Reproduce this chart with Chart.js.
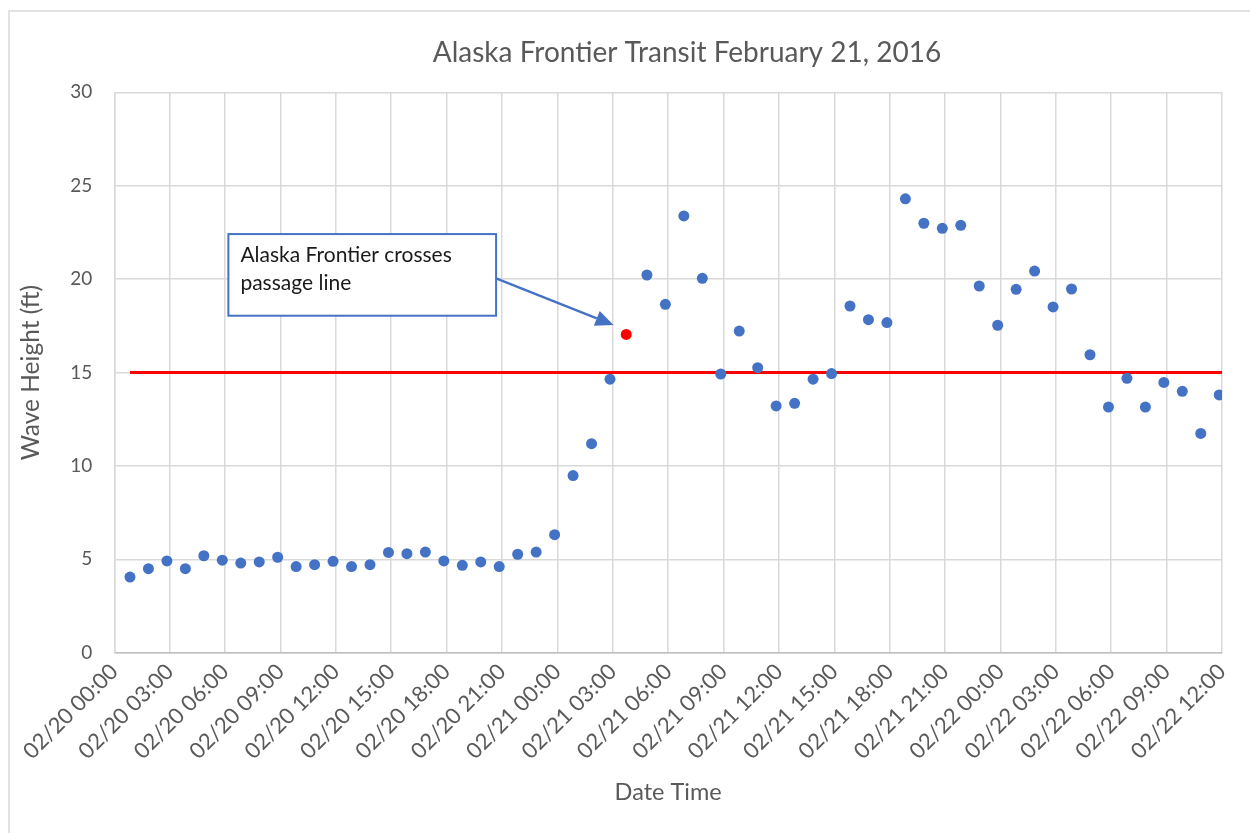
<!DOCTYPE html>
<html>
<head>
<meta charset="utf-8">
<title>Alaska Frontier Transit</title>
<script src="https://cdn.jsdelivr.net/npm/chart.js@4.4.1/dist/chart.umd.min.js"></script>
<style>
  html, body { margin: 0; padding: 0; background: #fff; }
  #wrap { width: 1250px; height: 833px; position: relative; }
</style>
</head>
<body>
<div id="wrap"><canvas id="chartWaves"></canvas></div>
<script>
// horas contadas desde 02/20 00:00; una lectura por hora (a los :51)
const firstReading = 0.85;
const axisDays = ['02/20', '02/21', '02/22'];

// altura de ola (ft); null = hueco donde va el punto rojo del cruce
const waveHeights = [
  4.05, 4.50, 4.91, 4.50, 5.19, 4.95, 4.80, 4.86, 5.11, 4.61,
  4.71, 4.89, 4.61, 4.71, 5.37, 5.30, 5.39, 4.91, 4.68, 4.86,
  4.61, 5.27, 5.39, 6.32, 9.48, 11.19, 14.64, null, 20.22, 18.65,
  23.38, 20.04, 14.92, 17.22, 15.26, 13.21, 13.35, 14.64, 14.94, 18.56,
  17.83, 17.67, 24.30, 22.99, 22.72, 22.88, 19.63, 17.53, 19.45, 20.43,
  18.51, 19.47, 15.95, 13.15, 14.69, 13.15, 14.47, 13.99, 11.74, 13.80,
];

const crossingTime   = 27.73;
const crossingHeight = 17.04;

const passageLimit = 15;
const limitSpan    = [0.85, 60];

const chartTitle = 'Alaska Frontier Transit February 21, 2016';

// nota con flecha, en coordenadas de datos (hora, ft)
const noteLines = ['Alaska Frontier crosses', 'passage line'];
const noteBox   = { x1: 6.18, x2: 20.68, top: 22.41, bottom: 18.04 };
const noteArrow = { fromY: 20.04, toX: 27.04, toY: 17.54 };

const blue = '#4472c4';
const txt  = '#595959';
const grid = '#d9d9d9';
const FONT = 'Lato, "Open Sans", sans-serif';

const wavePoints = waveHeights
  .map((v, i) => ({ x: firstReading + i, y: v }))
  .filter(p => p.y !== null);

function tickLabel(v) {
  const day = axisDays[Math.floor(v / 24)];
  const hh  = String(v % 24).padStart(2, '0');
  return `${day} ${hh}:00`;
}

// marco gris del área del gráfico y título (centrado como en Excel, no en el canvas)
const frame = {
  id: 'frame',
  beforeDraw(chart) {
    const ctx = chart.ctx;
    ctx.save();
    ctx.strokeStyle = grid;
    ctx.lineWidth = 1.5;
    ctx.strokeRect(9, 11, chart.width, chart.height);
    ctx.fillStyle = txt;
    ctx.font = `28px ${FONT}`;
    ctx.textAlign = 'center';
    ctx.textBaseline = 'middle';
    ctx.fillText(chartTitle, 687, 53);
    ctx.restore();
  },
};

const note = {
  id: 'note',
  afterDraw(chart) {
    const { ctx, scales: { x, y } } = chart;
    const l = x.getPixelForValue(noteBox.x1), r = x.getPixelForValue(noteBox.x2);
    const t = y.getPixelForValue(noteBox.top), b = y.getPixelForValue(noteBox.bottom);
    ctx.save();
    ctx.fillStyle = '#fff';
    ctx.fillRect(l, t, r - l, b - t);
    ctx.strokeStyle = blue;
    ctx.lineWidth = 2;
    ctx.strokeRect(l, t, r - l, b - t);

    ctx.fillStyle = '#1a1a1a';
    ctx.font = `21px ${FONT}`;
    ctx.textBaseline = 'alphabetic';
    noteLines.forEach((s, i) => ctx.fillText(s, l + 12, t + 28 + i * 27.5));

    const sx = r, sy = y.getPixelForValue(noteArrow.fromY);
    const ex = x.getPixelForValue(noteArrow.toX), ey = y.getPixelForValue(noteArrow.toY);
    const ang = Math.atan2(ey - sy, ex - sx);
    const hl = 18, hw = 8;
    const bx = ex - hl * Math.cos(ang), by = ey - hl * Math.sin(ang);
    ctx.strokeStyle = blue;
    ctx.lineWidth = 2.25;
    ctx.beginPath();
    ctx.moveTo(sx, sy);
    ctx.lineTo(bx, by);
    ctx.stroke();
    ctx.fillStyle = blue;
    ctx.beginPath();
    ctx.moveTo(ex, ey);
    ctx.lineTo(bx + hw * Math.sin(ang), by - hw * Math.cos(ang));
    ctx.lineTo(bx - hw * Math.sin(ang), by + hw * Math.cos(ang));
    ctx.closePath();
    ctx.fill();
    ctx.restore();
  },
};

new Chart(document.getElementById('chartWaves'), {
  type: 'scatter',
  data: {
    datasets: [
      {
        data:            wavePoints,
        backgroundColor: blue,
        borderWidth:     0,
        pointRadius:     5.5,
        pointHoverRadius: 5.5,
        order:           0,
      },
      {
        data:            [{ x: crossingTime, y: crossingHeight }],
        backgroundColor: '#ff0000',
        borderWidth:     0,
        pointRadius:     5.5,
        order:           1,
      },
      {
        data:            limitSpan.map(h => ({ x: h, y: passageLimit })),
        showLine:        true,
        borderColor:     '#ff0000',
        borderWidth:     3,
        pointRadius:     0,
        order:           2,
      },
    ],
  },
  options: {
    responsive:          true,
    maintainAspectRatio: false,
    animation:           false,
    layout: { padding: { left: 0, right: 28, top: 92.3, bottom: 0 } },
    plugins: {
      legend:  { display: false },
      tooltip: { enabled: false },
      title:   { display: false },
    },
    scales: {
      x: {
        type: 'linear',
        min: 0, max: 60,
        afterFit: s => { s.height = 180.3; },
        ticks: {
          stepSize: 3,
          callback: tickLabel,
          color: txt,
          font: { family: FONT, size: 22 },
          minRotation: 45, maxRotation: 45,
          padding: 6,
        },
        grid:   { color: grid, lineWidth: 1.5, drawTicks: false },
        border: { color: '#bfbfbf', width: 1.5 },
        title: {
          display: true,
          text:    'Date Time',
          color:   txt,
          font:    { family: FONT, size: 23.5, lineHeight: 1.2 },
          padding: { top: 0, bottom: 26 },
        },
      },
      y: {
        min: 0, max: 30,
        afterFit: s => { s.width = 114.3; },
        ticks: {
          stepSize: 5,
          color: txt,
          font: { family: FONT, size: 19 },
          padding: 22,
        },
        grid:   { color: grid, lineWidth: 1.5, drawTicks: false },
        border: { color: grid, width: 1.5 },
        title: {
          display: true,
          text:    'Wave Height (ft)',
          color:   txt,
          font:    { family: FONT, size: 24.5, lineHeight: 1.2 },
          padding: { top: 16, bottom: 0 },
        },
      },
    },
  },
  plugins: [frame, note],
});
</script>
</body>
</html>
